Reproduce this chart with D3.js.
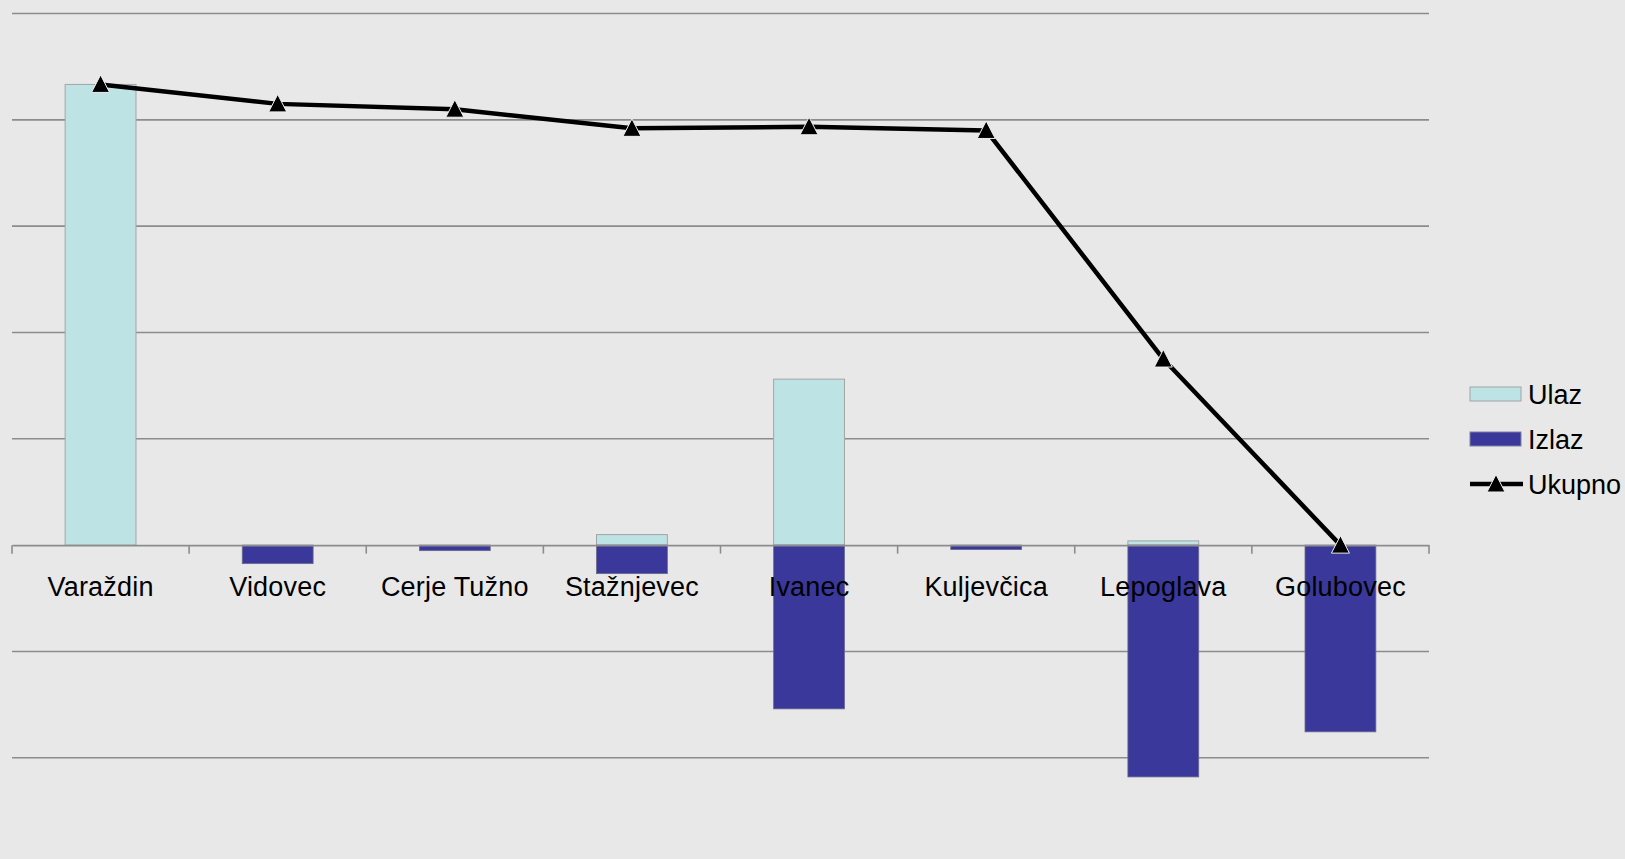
<!DOCTYPE html>
<html><head><meta charset="utf-8">
<script src="https://cdn.jsdelivr.net/npm/d3@7"></script>
<style>html,body{margin:0;padding:0;background:#e8e8e8;overflow:hidden}</style>
</head><body><svg id="c" width="1625" height="859"></svg>
<script>
const categories = ["Varaždin","Vidovec","Cerje Tužno","Stažnjevec","Ivanec","Kuljevčica","Lepoglava","Golubovec"];
const ulaz   = [4333, 0, 0, 99, 1561, 0, 40, 0];
const izlaz  = [0, -174, -52, -268, -1540, -42, -2180, -1756];
const ukupno = [4333, 4150, 4100, 3920, 3935, 3900, 1750, 0];
const gridTicks = [-3000,-2000,-1000,0,1000,2000,3000,4000,5000];
const seriesNames = ["Ulaz","Izlaz","Ukupno"];

const W=1625,H=859;
const svg=d3.select("#c");
svg.append("rect").attr("width",W).attr("height",H).attr("fill","#e8e8e8");
const x=d3.scaleBand().domain(categories).range([12,1429]).paddingInner(0).paddingOuter(0);
const y=d3.scaleLinear().domain([-3000,5000]).range([864.1,13.5]);
const font="'Liberation Sans', Arial, sans-serif";

// gridlines
svg.append("g").selectAll("line").data(gridTicks.filter(d=>d!==0)).join("line")
  .attr("x1",12).attr("x2",1429).attr("y1",d=>y(d)).attr("y2",d=>y(d))
  .attr("stroke","#8c8c8c").attr("stroke-width",1.6);

const bw=x.bandwidth()*0.4;
const off=(x.bandwidth()-bw)/2;
// Ulaz bars
svg.append("g").selectAll("rect").data(categories).join("rect")
  .filter((d,i)=>ulaz[i]!==0)
  .attr("x",d=>x(d)+off).attr("width",bw)
  .attr("y",(d)=>y(ulaz[categories.indexOf(d)])).attr("height",d=>y(0)-y(ulaz[categories.indexOf(d)]))
  .attr("fill","#bee3e5").attr("stroke","#a4a4a4").attr("stroke-width",1);
// Izlaz bars
svg.append("g").selectAll("rect").data(categories).join("rect")
  .filter((d,i)=>izlaz[i]!==0)
  .attr("x",d=>x(d)+off).attr("width",bw)
  .attr("y",y(0)).attr("height",d=>y(izlaz[categories.indexOf(d)])-y(0))
  .attr("fill","#3a389b").attr("stroke","#6a6a8a").attr("stroke-width",0.8);

// x axis at zero
const ax=d3.axisBottom(x).tickSize(0).tickFormat(d=>d);
const axg=svg.append("g").attr("transform",`translate(0,${y(0)})`).call(ax);
axg.select(".domain").attr("stroke","#8c8c8c").attr("stroke-width",1.6);
axg.selectAll("text").attr("font-family",font).attr("font-size","27px").attr("fill","#000")
  .attr("dy",0).attr("y",50.5).attr("letter-spacing","0.2px");
// tick marks at band boundaries
const bounds=categories.map(c=>x(c)).concat([x.range()[1]]);
axg.append("g").selectAll("line").data(bounds).join("line")
  .attr("x1",d=>d).attr("x2",d=>d).attr("y1",0).attr("y2",8.5)
  .attr("stroke","#8c8c8c").attr("stroke-width",1.6);

// Ukupno line
const tri="M0,-9.5L9,8L-9,8Z";
const line=d3.line().x((d,i)=>x(categories[i])+x.bandwidth()/2).y(d=>y(d));
svg.append("path").datum(ukupno).attr("d",line).attr("fill","none")
  .attr("stroke","#000").attr("stroke-width",4.5).attr("stroke-linejoin","round");
svg.append("g").selectAll("path").data(ukupno).join("path")
  .attr("d",tri).attr("transform",(d,i)=>`translate(${x(categories[i])+x.bandwidth()/2},${y(d)})`)
  .attr("fill","#000").attr("stroke","#f0f0f0").attr("stroke-width",1);

// Legend
const lg=svg.append("g").attr("font-family",font).attr("font-size","27px");
lg.append("rect").attr("x",1470).attr("y",387).attr("width",51).attr("height",14).attr("fill","#bee3e5").attr("stroke","#a4a4a4");
lg.append("rect").attr("x",1470).attr("y",432).attr("width",51).attr("height",14).attr("fill","#3a389b").attr("stroke","#8080a0");
lg.append("line").attr("x1",1470).attr("x2",1523).attr("y1",484).attr("y2",484).attr("stroke","#000").attr("stroke-width",4.5);
lg.append("path").attr("d",tri).attr("transform","translate(1496,484)").attr("fill","#000").attr("stroke","#f0f0f0").attr("stroke-width",1);
lg.selectAll("text").data(seriesNames).join("text").attr("x",1528).attr("y",(d,i)=>404+i*45).text(d=>d).attr("fill","#000");
</script></body></html>
